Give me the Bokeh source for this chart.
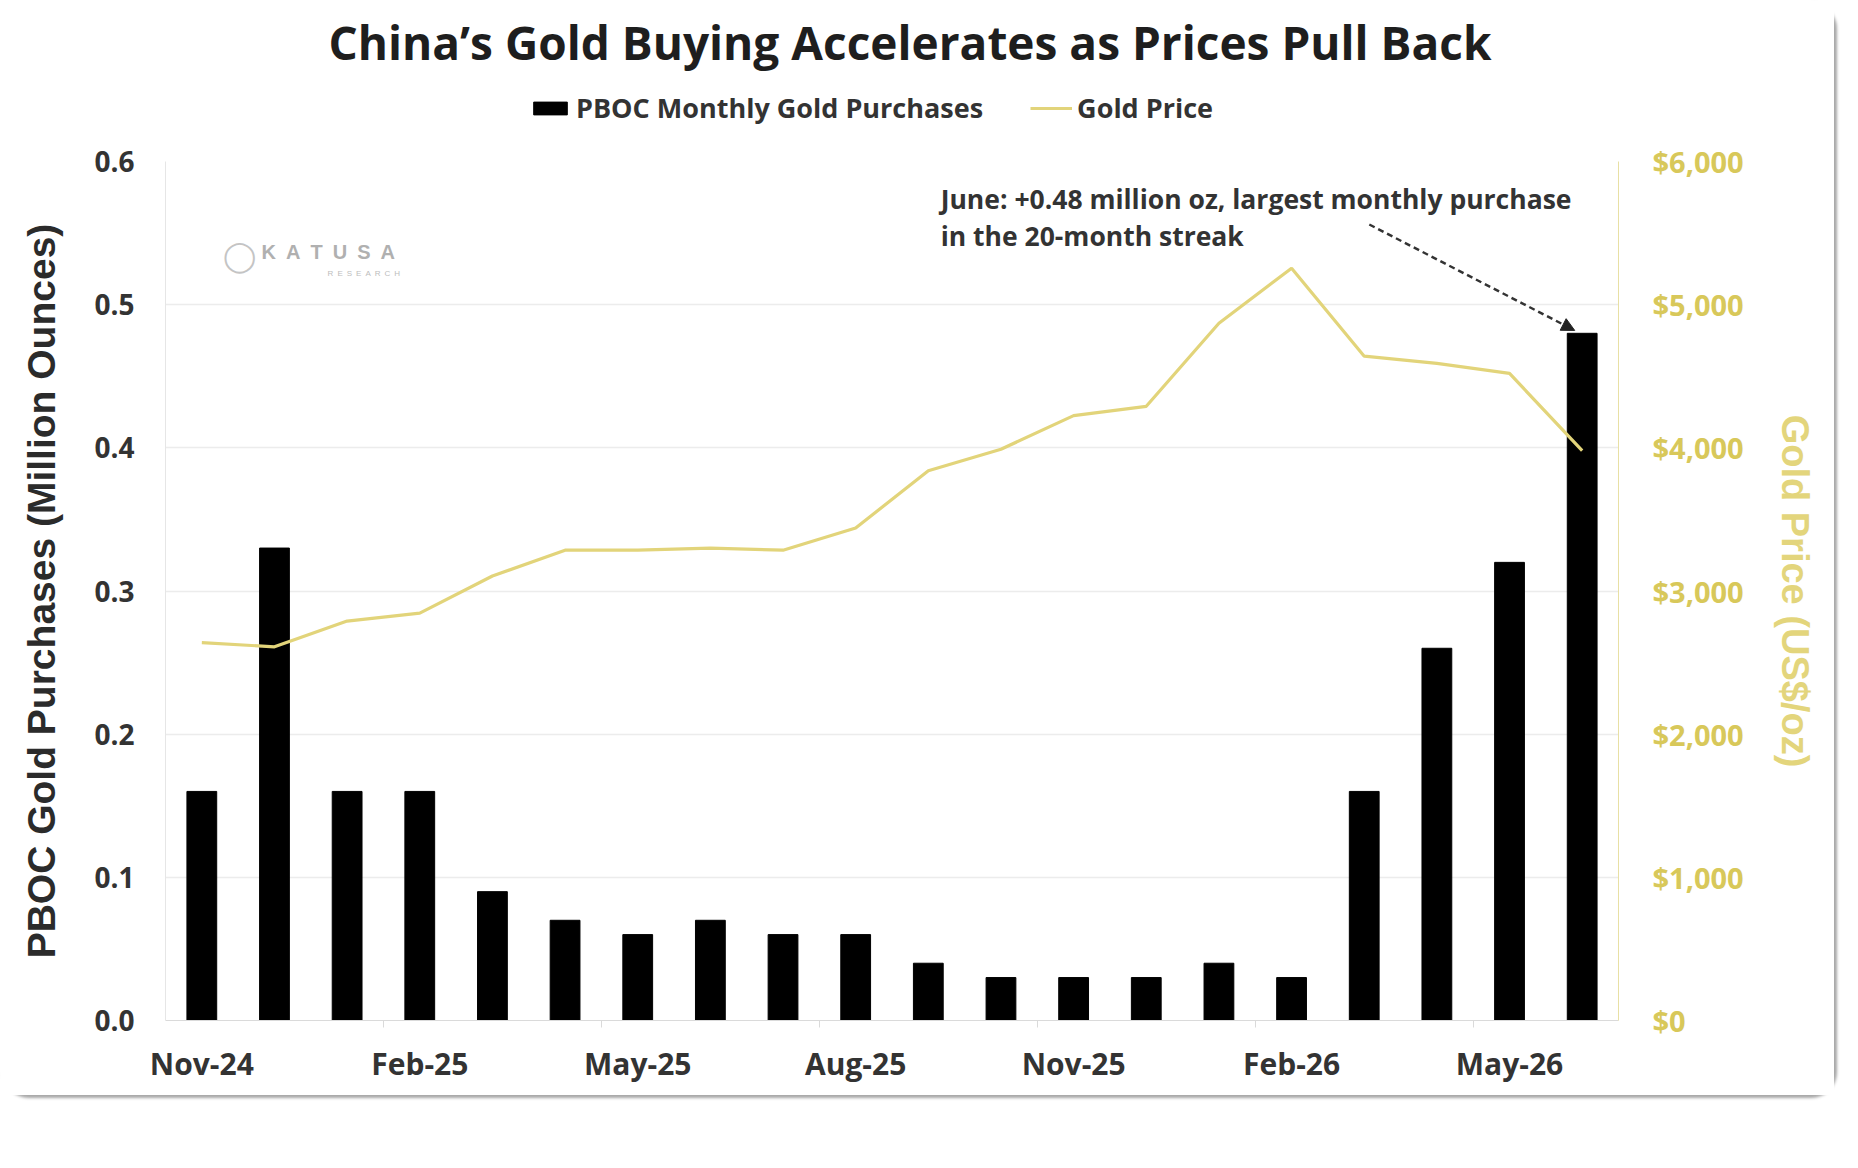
from bokeh.plotting import figure
from bokeh.layouts import column
from bokeh.models import (Range1d, LinearAxis, FixedTicker, NumeralTickFormatter,
                          Legend, LegendItem, Label, Arrow, NormalHead)
from bokeh.embed import file_html
from bokeh.resources import INLINE

# --- data ---
months = ["Nov-24", "Dec-24", "Jan-25", "Feb-25", "Mar-25", "Apr-25", "May-25",
          "Jun-25", "Jul-25", "Aug-25", "Sep-25", "Oct-25", "Nov-25", "Dec-25",
          "Jan-26", "Feb-26", "Mar-26", "Apr-26", "May-26", "Jun-26"]
pboc_moz = [0.16, 0.33, 0.16, 0.16, 0.09, 0.07, 0.06, 0.07, 0.06, 0.06,
            0.04, 0.03, 0.03, 0.03, 0.04, 0.03, 0.16, 0.26, 0.32, 0.48]
gold_usd = [2640, 2610, 2790, 2845, 3105, 3285, 3285, 3300, 3285, 3440,
            3840, 3990, 4225, 4290, 4870, 5255, 4640, 4590, 4520, 3980]
shown_months = ["Nov-24", "Feb-25", "May-25", "Aug-25", "Nov-25", "Feb-26", "May-26"]
left_ticks = [0.0, 0.1, 0.2, 0.3, 0.4, 0.5, 0.6]
right_ticks = [0, 1000, 2000, 3000, 4000, 5000, 6000]

TITLE = "China\u2019s Gold Buying Accelerates as Prices Pull Back"
NOTE_1 = "June: +0.48 million oz, largest monthly purchase"
NOTE_2 = "in the 20-month streak"

GOLD = "#e2d47a"
GOLD_TEXT = "#d8c85a"
GOLD_LABEL = "#e3d57c"
INK = "#2b2b2b"
TEXT_FONT = "Open Sans"
AXIS_FONT = "Liberation Sans"
BAR_WIDTH = 0.41

W = 1834
HEADER_H = 130
TOTAL_H = 1095

x = list(range(len(months)))

# ---------------- header: title + legend ----------------
header = figure(width=W, height=HEADER_H, x_range=Range1d(-100, -99), y_range=Range1d(-100, -99),
                x_axis_location=None, y_axis_location=None,
                output_backend="svg", toolbar_location=None,
                min_border_left=0, min_border_right=0, min_border_top=0, min_border_bottom=0,
                background_fill_color="white", border_fill_color="white")
header.outline_line_color = None
header.grid.visible = False
header.title.text = TITLE
header.title.align = "left"
header.title.offset = 163
header.title.standoff = 16
header.title.text_font = TEXT_FONT
header.title.text_font_size = "46px"
header.title.text_font_style = "bold"
header.title.text_color = "#1e1e1e"

# hidden copies of the two series, only used for the legend swatches
bar_key = header.vbar(x=x, top=pboc_moz, width=BAR_WIDTH, color="black", visible=False)
line_key = header.line(x, gold_usd, line_color=GOLD, line_width=3.2, visible=False)
legend = Legend(items=[
    LegendItem(label="PBOC Monthly Gold Purchases", renderers=[bar_key]),
    LegendItem(label="Gold Price", renderers=[line_key]),
], orientation="horizontal", location=(364, 4))
legend.label_text_font = TEXT_FONT
legend.label_text_font_size = "27px"
legend.label_text_font_style = "bold"
legend.label_text_color = "#333333"
legend.glyph_width = 42
legend.glyph_height = 16
legend.label_standoff = 5
legend.spacing = 47
legend.padding = 0
legend.margin = 0
legend.border_line_color = None
legend.background_fill_alpha = 0
header.add_layout(legend)

# ---------------- main chart ----------------
p = figure(
    width=W, height=TOTAL_H - HEADER_H,
    x_range=Range1d(-0.5, len(months) - 0.5),
    y_range=Range1d(left_ticks[0], left_ticks[-1]),
    output_backend="svg", toolbar_location=None,
    min_border_left=165, min_border_right=216, min_border_bottom=75,
    min_border_top=161 - HEADER_H,
    background_fill_color="white", border_fill_color="white",
)
p.outline_line_color = None

bars = p.vbar(x=x, top=pboc_moz, width=BAR_WIDTH, color="black")

p.extra_y_ranges = {"price": Range1d(right_ticks[0], right_ticks[-1])}
price = p.line(x, gold_usd, line_color=GOLD, line_width=3.2, y_range_name="price")

# left axis
yax = p.yaxis[0]
yax.ticker = FixedTicker(ticks=left_ticks)
yax.formatter = NumeralTickFormatter(format="0.0")
yax.axis_label = "PBOC Gold Purchases (Million Ounces)"
yax.axis_label_text_font = AXIS_FONT
yax.axis_label_text_font_size = "39px"
yax.axis_label_text_font_style = "bold"
yax.axis_label_text_color = INK
yax.axis_label_standoff = 28
yax.major_label_text_font = TEXT_FONT
yax.major_label_text_font_size = "28px"
yax.major_label_text_font_style = "bold"
yax.major_label_text_color = "#333333"
yax.major_label_standoff = 31
yax.major_tick_out = 0
yax.major_tick_in = 0
yax.major_tick_line_color = None
yax.minor_tick_line_color = None
yax.axis_line_color = "#e6e6e6"

# right axis
rax = LinearAxis(y_range_name="price", ticker=FixedTicker(ticks=right_ticks),
                 formatter=NumeralTickFormatter(format="$0,0"))
rax.axis_label = "Gold Price (US$/oz)"
rax.axis_label_text_font = AXIS_FONT
rax.axis_label_text_font_size = "38px"
rax.axis_label_text_font_style = "bold"
rax.axis_label_text_color = GOLD_LABEL
rax.axis_label_standoff = 27
rax.major_label_text_font = TEXT_FONT
rax.major_label_text_font_size = "29px"
rax.major_label_text_font_style = "bold"
rax.major_label_text_color = GOLD_TEXT
rax.major_label_standoff = 34
rax.major_tick_out = 0
rax.major_tick_in = 0
rax.major_tick_line_color = None
rax.minor_tick_line_color = None
rax.axis_line_color = "#e8e0a4"
p.add_layout(rax, "right")

# x axis: a label every third month, small ticks between the groups
tick_idx = [months.index(m) for m in shown_months]
xax = p.xaxis[0]
xax.ticker = FixedTicker(ticks=tick_idx,
                         minor_ticks=[i + 0.5 for i in range(2, len(months) - 1, 3)])
xax.major_label_overrides = {i: months[i] for i in tick_idx}
xax.major_label_text_font = TEXT_FONT
xax.major_label_text_font_size = "30px"
xax.major_label_text_font_style = "bold"
xax.major_label_text_color = "#333333"
xax.major_label_standoff = 15
xax.major_tick_line_color = None
xax.major_tick_out = 0
xax.major_tick_in = 0
xax.minor_tick_line_color = "#dadada"
xax.minor_tick_out = 7
xax.minor_tick_in = 0
xax.axis_line_color = "#dadada"

p.xgrid.grid_line_color = None
p.ygrid.grid_line_color = "#ececec"
p.ygrid.grid_line_width = 1.5

# annotation and arrow
note_x, note_y = 10.17, 0.574
for line_text, dy in [(NOTE_1, 0), (NOTE_2, -37)]:
    p.add_layout(Label(x=note_x, y=note_y, y_offset=dy, text=line_text, text_font=TEXT_FONT,
                       text_font_size="26.5px", text_font_style="bold",
                       text_color="#333333", text_baseline="middle"))
p.add_layout(Arrow(end=NormalHead(size=13, fill_color="#222222", line_color="#222222"),
                   x_start=x[-1] - 2.93, y_start=0.556,
                   x_end=x[-1] - BAR_WIDTH / 4, y_end=pboc_moz[-1] + 0.002,
                   line_color="#333333", line_width=2.5, line_dash="6 4"))

# watermark and source
wm_x, wm_y = 0.52, 0.534
p.add_layout(Label(x=wm_x, y=wm_y, x_offset=22, y_offset=4,
                   text="\u2002".join("KATUSA"),
                   text_font=AXIS_FONT, text_font_size="20px", text_font_style="bold",
                   text_color="#b0b0b0", text_baseline="middle"))
p.add_layout(Label(x=wm_x, y=wm_y, x_offset=88, y_offset=-18,
                   text="\u2002".join("RESEARCH"),
                   text_font=AXIS_FONT, text_font_size="8px", text_color="#bdbdbd",
                   text_baseline="middle"))
p.add_layout(Label(x=wm_x, y=wm_y, text="\u25EF",
                   text_font="DejaVu Sans", text_font_size="30px", text_color="#c4c4c4",
                   text_baseline="middle", text_align="center"))
p.add_layout(Label(x=-0.5, y=0, x_offset=-140, y_offset=-65, text="Source: Bloomberg",
                   text_font=AXIS_FONT, text_font_size="14px", text_color="#b4b4b4",
                   text_baseline="middle"))

layout = column(header, p, spacing=0)
layout.styles = {"border-radius": "26px", "box-shadow": "3px 3px 3px rgba(0,0,0,0.35)",
                 "background-color": "white"}

open("out.html", "w").write(file_html(layout, INLINE))
